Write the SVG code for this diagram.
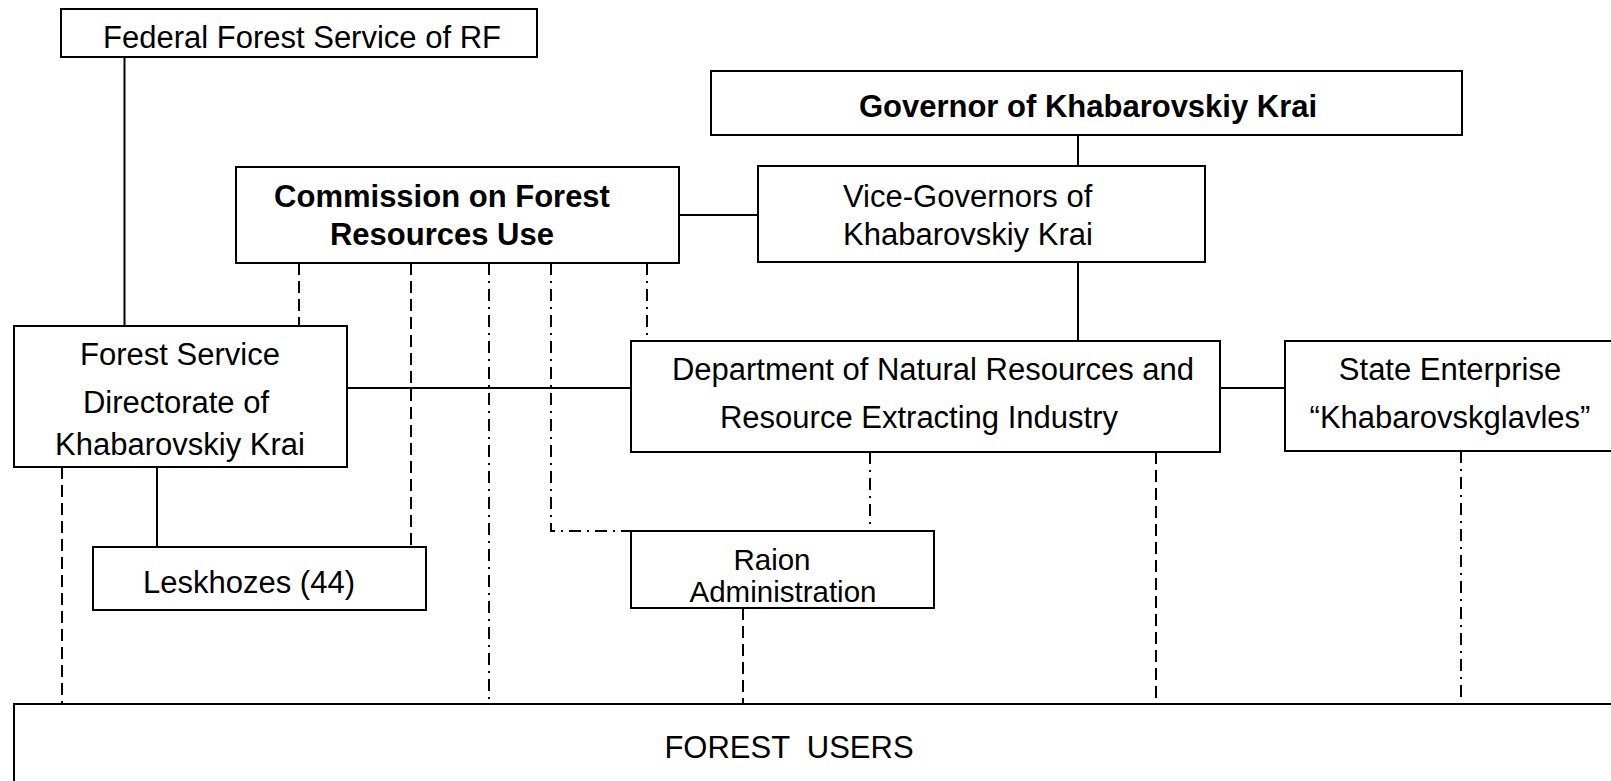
<svg xmlns="http://www.w3.org/2000/svg" width="1611" height="781" viewBox="0 0 1611 781">
<style>
  .box { fill: #ffffff; stroke: #000000; stroke-width: 2; }
  .t { font-family: "Liberation Sans", Arial, Helvetica, sans-serif; font-size: 31px; fill: #000000; text-anchor: middle; }
  .b { font-weight: bold; }
  .st { text-anchor: start; }
  .sm { font-size: 29.5px; }
  .solid { stroke: #000000; stroke-width: 2; fill: none; }
  .dash { stroke: #000000; stroke-width: 2; fill: none; stroke-dasharray: 12 6; }
  .dashdot { stroke: #000000; stroke-width: 2; fill: none; stroke-dasharray: 12 6 2 6; }
</style>
<rect width="1611" height="781" fill="#ffffff"/>
<g id="connectors">
  <line class="solid" x1="124.5" y1="57" x2="124.5" y2="326"/>
  <line class="solid" x1="1078" y1="135" x2="1078" y2="166"/>
  <line class="solid" x1="679" y1="215" x2="758" y2="215"/>
  <line class="solid" x1="1078" y1="262" x2="1078" y2="341"/>
  <line class="solid" x1="347" y1="388" x2="631" y2="388"/>
  <line class="solid" x1="1220" y1="388" x2="1285" y2="388"/>
  <line class="solid" x1="157" y1="467" x2="157" y2="547"/>
  <line class="dash" x1="299" y1="263" x2="299" y2="326"/>
  <line class="dash" x1="411" y1="263" x2="411" y2="547"/>
  <line class="dashdot" x1="489" y1="263" x2="489" y2="704"/>
  <polyline class="dashdot" points="551,263 551,531 631,531"/>
  <line class="dashdot" x1="647" y1="263" x2="647" y2="341"/>
  <line class="dash" x1="62" y1="467" x2="62" y2="704"/>
  <line class="dashdot" x1="870" y1="452" x2="870" y2="531"/>
  <line class="dash" x1="1156" y1="452" x2="1156" y2="704"/>
  <line class="dashdot" x1="1461" y1="451" x2="1461" y2="704"/>
  <line class="dash" x1="743" y1="608" x2="743" y2="704"/>
</g>
<g id="federal">
  <rect class="box" x="61" y="9" width="476" height="48"/>
  <text class="t" x="302" y="48">Federal Forest Service of RF</text>
</g>
<g id="governor">
  <rect class="box" x="711" y="71" width="751" height="64"/>
  <text class="t b" x="1088" y="117">Governor of Khabarovskiy Krai</text>
</g>
<g id="commission">
  <rect class="box" x="236" y="167" width="443" height="96"/>
  <text class="t b" x="442" y="207">Commission on Forest</text>
  <text class="t b" x="442" y="245">Resources Use</text>
</g>
<g id="vice">
  <rect class="box" x="758" y="166" width="447" height="96"/>
  <text class="t st" x="843" y="207">Vice-Governors of</text>
  <text class="t st" x="843" y="245">Khabarovskiy Krai</text>
</g>
<g id="forest-service">
  <rect class="box" x="14" y="326" width="333" height="141"/>
  <text class="t" x="180" y="365">Forest Service</text>
  <text class="t" x="176" y="413">Directorate of</text>
  <text class="t" x="180" y="455">Khabarovskiy Krai</text>
</g>
<g id="department">
  <rect class="box" x="631" y="341" width="589" height="111"/>
  <text class="t" x="933" y="380">Department of Natural Resources and</text>
  <text class="t" x="919" y="428">Resource Extracting Industry</text>
</g>
<g id="state-enterprise">
  <rect class="box" x="1285" y="341" width="340" height="110"/>
  <text class="t" x="1450" y="380">State Enterprise</text>
  <text class="t" x="1450" y="428">“Khabarovskglavles”</text>
</g>
<g id="leskhozes">
  <rect class="box" x="93" y="547" width="333" height="63"/>
  <text class="t" x="249" y="593">Leskhozes (44)</text>
</g>
<g id="raion">
  <rect class="box" x="631" y="531" width="303" height="77"/>
  <text class="t sm" x="772" y="570">Raion</text>
  <text class="t sm" x="783" y="602">Administration</text>
</g>
<g id="forest-users">
  <rect class="box" x="14" y="704" width="1610" height="90"/>
  <text class="t" x="789" y="758" xml:space="preserve">FOREST  USERS</text>
</g>
</svg>
